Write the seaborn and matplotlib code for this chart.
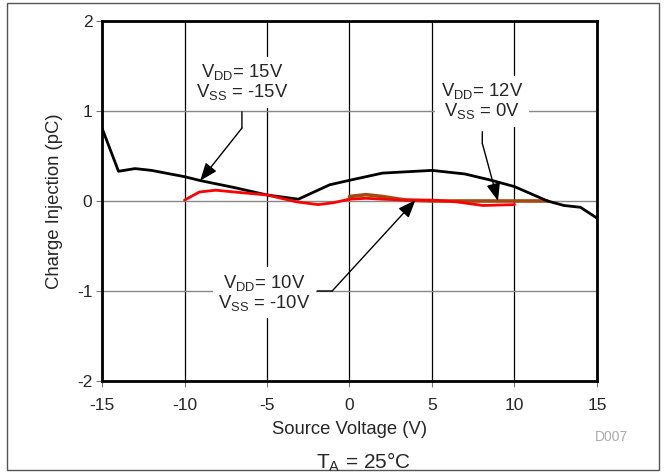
import numpy as np
import pandas as pd
import matplotlib
matplotlib.use("Agg")
import matplotlib.pyplot as plt
import seaborn as sns
from matplotlib.patches import Rectangle

# data
x_15 = [-15, -14, -13, -12, -10, -9, -7, -5, -3.1, -1.2, 0, 2, 5, 7, 8.6, 10, 12, 13, 14, 15]
q_15 = [0.81, 0.33, 0.36, 0.34, 0.27, 0.225, 0.15, 0.067, 0.02, 0.18, 0.23, 0.31, 0.34, 0.30, 0.23, 0.16, 0.0, -0.05, -0.07, -0.19]

x_10 = [-10, -9.1, -8.1, -7, -5, -3.2, -1.9, -1, 0, 1, 2, 3.4, 5, 6.5, 8.1, 10]
q_10 = [0.01, 0.10, 0.12, 0.10, 0.067, -0.01, -0.04, -0.02, 0.02, 0.03, 0.02, 0.01, 0.01, -0.01, -0.05, -0.04]

x_12 = [0, 1, 2, 3.4, 5, 6.5, 8.5, 10, 12]
q_12 = [0.05, 0.07, 0.05, 0.01, 0.0, 0.0, 0.0, 0.0, 0.0]

x_ticks = [-15, -10, -5, 0, 5, 10, 15]
y_ticks = [-2, -1, 0, 1, 2]

sns.set_theme(style="white")
plt.rcParams["font.family"] = ["Liberation Sans", "DejaVu Sans"]
plt.rcParams["mathtext.fontset"] = "custom"
plt.rcParams["mathtext.rm"] = "Liberation Sans"
plt.rcParams["mathtext.it"] = "Liberation Sans"
plt.rcParams["mathtext.default"] = "regular"

fig = plt.figure(figsize=(6.65, 4.76), dpi=100)
ax = fig.add_axes([0.1534, 0.1996, 0.7443, 0.7563])

# outer frame
fig.patches.append(Rectangle((0.011, 0.013), 0.980, 0.981, transform=fig.transFigure,
                             fill=False, edgecolor="#555555", linewidth=1.0))

df15 = pd.DataFrame({"x": x_15, "y": q_15})
df10 = pd.DataFrame({"x": x_10, "y": q_10})
df12 = pd.DataFrame({"x": x_12, "y": q_12})
sns.lineplot(data=df15, x="x", y="y", color="black", linewidth=2.0, ax=ax, zorder=4)
sns.lineplot(data=df12, x="x", y="y", color="#A34A12", linewidth=2.6, ax=ax, zorder=3)
sns.lineplot(data=df10, x="x", y="y", color="#FF0000", linewidth=2.0, ax=ax, zorder=5)

ax.set_xlim(-15, 15)
ax.set_ylim(-2, 2)
ax.set_xticks(x_ticks)
ax.set_yticks(y_ticks)
ax.set_xticklabels([str(t) for t in x_ticks], fontsize=12.5)
ax.set_yticklabels([str(t) for t in y_ticks], fontsize=12.5)
ax.tick_params(axis="both", length=4, width=0.8, color="#777777", direction="out",
               bottom=True, left=True)
ax.tick_params(axis="x", pad=8)
ax.tick_params(axis="y", pad=3)
ax.xaxis.grid(True, color="black", linewidth=0.9)
ax.yaxis.grid(True, color="#888888", linewidth=1.0)
ax.set_axisbelow(True)
for s in ax.spines.values():
    s.set_color("black")
    s.set_linewidth(2.0)

ax.set_xlabel("Source Voltage (V)", fontsize=13.3, labelpad=6)
ax.set_ylabel("Charge Injection (pC)", fontsize=13.3, labelpad=10)

box = dict(boxstyle="square,pad=0.3", facecolor="white", edgecolor="none")
arrow = dict(arrowstyle="-|>,head_length=0.9,head_width=0.35", color="black", lw=1.0,
             shrinkA=0, shrinkB=0)
plain = dict(arrowstyle="-", color="black", lw=1.0, shrinkA=0, shrinkB=0)

# VDD 15 / VSS -15
ax.text(-6.53, 1.32, "V$_{DD}$= 15V\nV$_{SS}$ = -15V", fontsize=13.3, ha="center", va="center",
        bbox=box, zorder=6, linespacing=1.0)
ax.annotate("", xy=(-6.52, 0.81), xytext=(-6.52, 0.99), arrowprops=plain, zorder=6)
ax.annotate("", xy=(-9.05, 0.225), xytext=(-6.52, 0.81), arrowprops=arrow, zorder=6)

# VDD 12 / VSS 0
ax.text(8.04, 1.11, "V$_{DD}$= 12V\nV$_{SS}$ = 0V", fontsize=13.3, ha="center", va="center",
        bbox=box, zorder=6, linespacing=1.0)
ax.annotate("", xy=(8.05, 0.64), xytext=(8.05, 0.77), arrowprops=plain, zorder=6)
ax.annotate("", xy=(9.0, 0.0), xytext=(8.05, 0.64), arrowprops=arrow, zorder=6)

# VDD 10 / VSS -10
ax.text(-5.16, -1.02, "V$_{DD}$= 10V\nV$_{SS}$ = -10V", fontsize=13.3, ha="center", va="center",
        bbox=box, zorder=6, linespacing=1.0)
ax.annotate("", xy=(-1.05, -1.0), xytext=(-1.95, -1.0), arrowprops=plain, zorder=6)
ax.annotate("", xy=(4.0, 0.01), xytext=(-1.05, -1.0), arrowprops=arrow, zorder=6)

fig.text(612 / 665, 1 - 437 / 476, "D007", fontsize=10, color="#AAAAAA", ha="center", va="center")
fig.text(363 / 665, 1 - 462 / 476, "T$_{A}$ = 25°C", fontsize=15, ha="center", va="center")

fig.savefig("out.png", dpi=100)
